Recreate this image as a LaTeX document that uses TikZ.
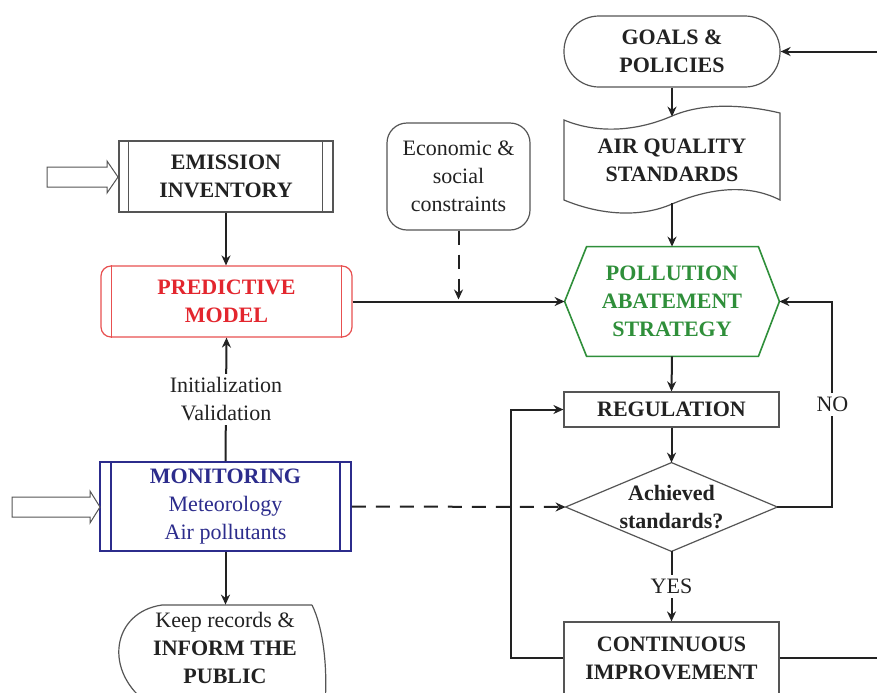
\documentclass[tikz,border=0pt]{standalone}
\usepackage{fontspec}
\setmainfont{Liberation Serif}
\usetikzlibrary{arrows.meta,calc}
\definecolor{cred}{HTML}{E3262E}
\definecolor{credl}{HTML}{E85050}
\definecolor{cgreen}{HTML}{2F8F3A}
\definecolor{cblue}{HTML}{2C2C8C}
\definecolor{cgray}{HTML}{555555}
\definecolor{ctext}{HTML}{222222}
\newcommand\dfont{\fontsize{11}{14}\selectfont}
\tikzset{
  box/.style={draw=cgray, line width=0.6pt, inner sep=0pt, align=center,
    font=\dfont\bfseries, text=ctext},
  ghost/.style={inner sep=0pt, align=center, font=\dfont\bfseries, text=ctext},
  conn/.style={line width=1pt, draw=ctext, -{Stealth[length=5pt,width=4.5pt]}},
  plain/.style={line width=1pt, draw=ctext},
  lbl/.style={fill=white, inner sep=2pt, align=center, font=\dfont, text=ctext},
  hollow/.style={draw=cgray, line width=0.5pt, fill=white},
  dash7/.style={dash pattern=on 7pt off 5pt}
}
\begin{document}
\begin{tikzpicture}[x=0.5pt,y=-0.5pt]
\path[use as bounding box, clip] (0,0) rectangle (877,692);
\fill[white] (0,0) rectangle (877,692);

% nodes
\node[box, minimum width=107pt, minimum height=35.5pt] (ei) at (226,176.5) {EMISSION\\INVENTORY};
\draw[cgray, line width=0.5pt] ([xshift=5pt]ei.north west) -- ([xshift=5pt]ei.south west);
\draw[cgray, line width=0.5pt] ([xshift=-5.5pt]ei.north east) -- ([xshift=-5.5pt]ei.south east);

\node[box, draw=credl, text=cred, rounded corners=5pt, minimum width=125.5pt, minimum height=35.5pt] (pm) at (226.5,301.5) {PREDICTIVE\\MODEL};
\draw[credl, line width=0.5pt] ([xshift=5.5pt]pm.north west) -- ([xshift=5.5pt]pm.south west);
\draw[credl, line width=0.5pt] ([xshift=-5.5pt]pm.north east) -- ([xshift=-5.5pt]pm.south east);

\node[box, font=\dfont, rounded corners=10pt, minimum width=71.5pt, minimum height=53.5pt] (eco) at (458.5,176.5) {Economic \&\\social\\constraints};

\node[box, rounded corners=17.5pt, minimum width=108pt, minimum height=35.5pt] (goals) at (672,51.5) {GOALS \&\\POLICIES};

\node[ghost, minimum width=108pt, minimum height=43pt] (aqs) at (672,160) {AIR QUALITY\\STANDARDS};
\draw[cgray, line width=0.6pt] (564,120) .. controls (600,135) and (640,130) .. (672,116)
  .. controls (702,103) and (742,104) .. (780,113) -- (780,200)
  .. controls (745,182) and (705,190) .. (672,204)
  .. controls (640,218) and (600,215) .. (564,200) -- cycle;

\node[ghost, text=cgreen, minimum width=107pt, minimum height=54.5pt] (pas) at (672,301.5) {POLLUTION\\ABATEMENT\\STRATEGY};
\draw[cgreen, line width=0.8pt] (pas.west) -- ([xshift=11pt]pas.north west) -- ([xshift=-10.5pt]pas.north east)
  -- (pas.east) -- ([xshift=-10.5pt]pas.south east) -- ([xshift=11pt]pas.south west) -- cycle;

\node[box, minimum width=107.5pt, minimum height=17.5pt] (reg) at (671.5,409.5) {REGULATION};

\node[ghost, minimum width=105.5pt, minimum height=44pt] (ach) at (671.5,507) {Achieved\\standards?};
\draw[cgray, line width=0.6pt] (ach.west) -- (ach.north) -- (ach.east) -- (ach.south) -- cycle;

\node[box, minimum width=107.5pt, minimum height=36pt] (ci) at (671.5,658) {CONTINUOUS\\IMPROVEMENT};

\node[box, draw=cblue, text=cblue, line width=0.9pt, minimum width=125.5pt, minimum height=44.5pt] (mon) at (225.5,506.5) {MONITORING\\{\mdseries Meteorology}\\{\mdseries Air pollutants}};
\draw[cblue, line width=0.8pt] ([xshift=6pt]mon.north west) -- ([xshift=6pt]mon.south west);
\draw[cblue, line width=0.8pt] ([xshift=-6pt]mon.north east) -- ([xshift=-6pt]mon.south east);

\node[ghost, minimum width=103pt, minimum height=43pt] (kr) at (225,648) {{\mdseries Keep records \&}\\INFORM THE\\PUBLIC};
\draw[cgray, line width=0.6pt] (312,605) -- (162,605) .. controls (112,612) and (102,672) .. (150,705);
\draw[cgray, line width=0.6pt] (312,605) .. controls (322,625) and (328,662) .. (325,705);

% hollow input arrows
\draw[hollow] (47,167) -- (107,167) -- (107,161) -- (118,177) -- (107,193) -- (107,187) -- (47,187) -- cycle;
\draw[hollow] (12,497) -- (90,497) -- (90,491) -- (100,507) -- (90,523) -- (90,517) -- (12,517) -- cycle;

% connectors
\draw[conn] (ei.south) -- (ei.south |- pm.north);
\draw[conn] (pm.east) -- (pas.west);
\draw[conn, dash7] (eco.south) -- ($(eco.south |- pm.east)+(0,-2)$);
\draw[conn] (goals.south) -- (aqs.north);
\draw[conn] (aqs.south) -- (pas.north);
\draw[conn] (pas.south) -- (reg.north);
\draw[conn] (reg.south) -- (ach.north);
\draw[conn] (ach.south) -- node[lbl]{YES} (ci.north);
\draw[conn] (ach.east) -- ++(55,0) |- node[lbl, pos=0.25]{NO} (pas.east);
\draw[conn] (ci.west) -- ++(-52,0) |- (reg.west);
\draw[conn, dash7] (mon.east) -- (ach.west);
\draw[conn] (ci.east) -- ++(130,0) |- (goals.east);
\draw[conn] (mon.north) -- node[lbl]{Initialization\\Validation} (pm.south);
\draw[conn] (mon.south) -- (mon.south |- kr.north);
\end{tikzpicture}
\end{document}
